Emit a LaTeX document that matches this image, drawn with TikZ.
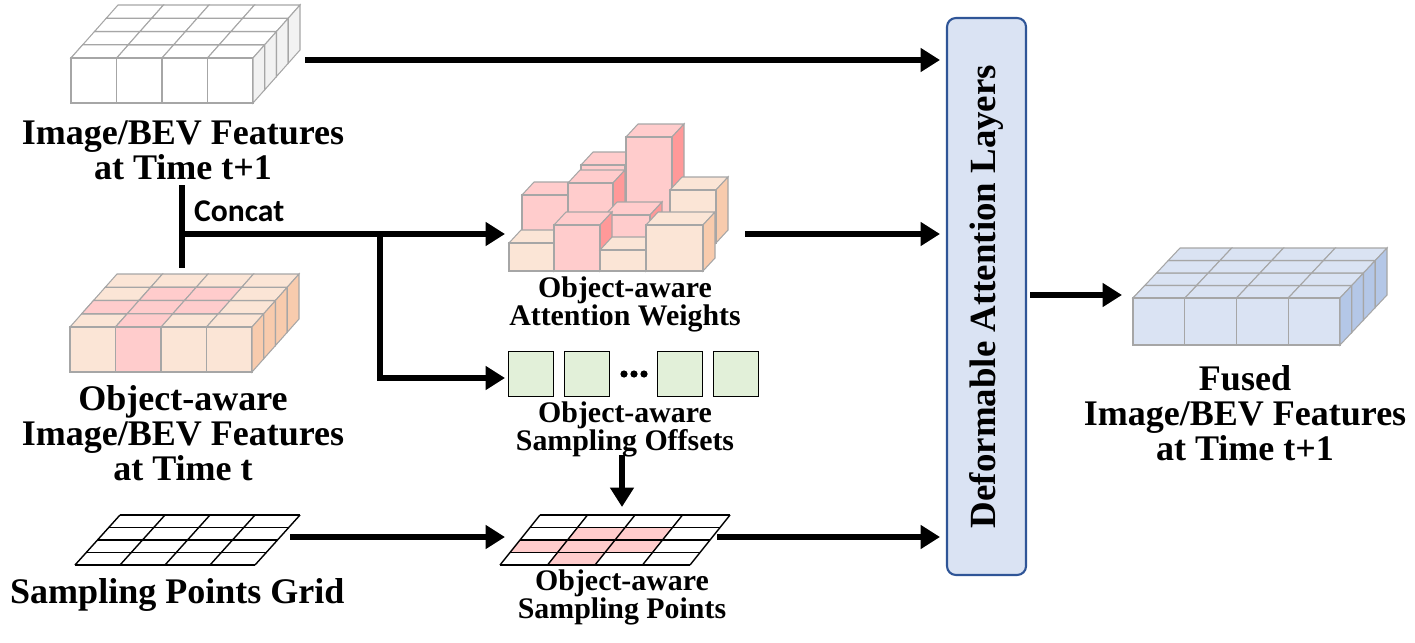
\documentclass[tikz,border=0pt]{standalone}
\usepackage{fontspec}
\setmainfont{Liberation Serif}
\newfontfamily\sansf{Carlito}
\definecolor{pk}{HTML}{FFCCCC}
\definecolor{pks}{HTML}{FF9999}
\definecolor{pc}{HTML}{FBE5D6}
\definecolor{pcs}{HTML}{F8CBAD}
\definecolor{bl}{HTML}{DAE3F3}
\definecolor{bls}{HTML}{B4C7E7}
\definecolor{ws}{HTML}{F2F2F2}
\definecolor{gn}{HTML}{E2F0D9}
\definecolor{edge}{HTML}{A6A6A6}
\definecolor{bord}{HTML}{2F5597}
\tikzset{
 cell/.style={draw=edge,line width=0.6pt},
 arr/.style={line width=3pt,-{Triangle[length=11pt,width=13pt]}},
 ln/.style={line width=3pt},
 lbl/.style={font=\bfseries\fontsize{20.5}{20}\selectfont,align=center},
 slbl/.style={font=\bfseries\fontsize{17}{16}\selectfont,align=center},
 grid/.style={draw=black,line width=0.8pt}
}
\usetikzlibrary{arrows.meta}
\newcommand{\myslab}[8]{%
 \foreach \i in {0,...,3}{\foreach \j in {0,...,3}{
  \filldraw[cell,fill=#3] ({#1+\i*\cw+\j*\ddx},{#2+\j*\ddy}) -- ++(\cw,0) -- ++(\ddx,\ddy) -- ++(-\cw,0) -- cycle;}}
 \foreach \i/\j in {#7}{
  \filldraw[cell,fill=#6] ({#1+\i*\cw+\j*\ddx},{#2+\j*\ddy}) -- ++(\cw,0) -- ++(\ddx,\ddy) -- ++(-\cw,0) -- cycle;}
 \foreach \i in {0,...,3}{
  \filldraw[cell,fill=#4] ({#1+\i*\cw},{#2}) rectangle ++(\cw,\ch);}
 \foreach \i in {#8}{
  \filldraw[cell,fill=#6] ({#1+\i*\cw},{#2}) rectangle ++(\cw,\ch);}
 \foreach \j in {0,...,3}{
  \filldraw[cell,fill=#5] ({#1+4*\cw+\j*\ddx},{#2+\j*\ddy}) -- ++(\ddx,\ddy) -- ++(0,\ch) -- ++(-\ddx,-\ddy) -- cycle;}
}
\newcommand{\mycube}[6]{%
 \filldraw[cell,fill=#5] (#1,#3) -- ++(12,-13) -- ({#2+12},{#3-13}) -- (#2,#3) -- cycle;
 \filldraw[cell,fill=#6] (#2,#3) -- ++(12,-13) -- ({#2+12},{#4-13}) -- (#2,#4) -- cycle;
 \filldraw[cell,fill=#5] (#1,#3) rectangle (#2,#4);
}
\newcommand{\mygrid}[7]{%
 \foreach \i/\j in {#6}{
  \fill[#7] ({#1+\i*#3/4+(4-\j)*#4/4},{#2-(4-\j)*#5/4}) -- ++({#3/4},0) -- ++({#4/4},{-#5/4}) -- ++({-#3/4},0) -- cycle;}
 \foreach \k in {0,...,4}{
  \draw[grid] ({#1+\k*#4/4},{#2-\k*#5/4}) -- ++(#3,0);
  \draw[grid] ({#1+\k*#3/4},{#2}) -- ++(#4,{-#5});}
}
\begin{document}
\begin{tikzpicture}[x=0.02cm,y=-0.02cm]
\useasboundingbox (0,0) rectangle (1415,642);
\def\cw{45.5}\def\ch{45}\def\ddx{11.75}\def\ddy{-13.25}
\myslab{71}{58}{white}{white}{ws}{white}{0/0}{0}
\myslab{70}{327}{pc}{pc}{pcs}{pk}{1/2,2/2,0/1,1/1,2/1,1/0}{1}
\def\cw{51.75}\def\ch{47}\def\ddx{11.75}\def\ddy{-12.5}
\myslab{1133}{298}{bl}{bl}{bls}{bl}{0/0}{0}
% attention weights cubes
\mycube{581}{625}{165}{200}{pk}{pks}
\mycube{626}{672}{137}{243}{pk}{pks}
\mycube{670}{716}{190}{243}{pc}{pcs}
\mycube{522}{568}{195}{243}{pk}{pks}
\mycube{568}{613}{183}{230}{pk}{pks}
\mycube{605}{650}{215}{250}{pk}{pks}
\mycube{509}{554}{243}{271}{pc}{pcs}
\mycube{554}{600}{225}{271}{pk}{pks}
\mycube{600}{646}{250}{271}{pc}{pcs}
\mycube{646}{703}{225}{271}{pc}{pcs}
% offsets
\node[draw,fill=gn,minimum size=0.9cm,inner sep=0,line width=0.8pt] (o1) at (531,374) {};
\node[draw,fill=gn,minimum size=0.9cm,inner sep=0,line width=0.8pt] (o2) at (587,374) {};
\foreach \d in {624,634,644}{\fill (\d,374) circle (3.6);}
\node[draw,fill=gn,minimum size=0.9cm,inner sep=0,line width=0.8pt] (o3) at (680,374) {};
\node[draw,fill=gn,minimum size=0.9cm,inner sep=0,line width=0.8pt] (o4) at (736,374) {};
% grids
\mygrid{75}{565}{180}{45}{50}{0/4}{white}
\mygrid{500}{565}{190}{40}{50}{1/2,2/2,0/3,1/3,2/3,1/4}{pk}
% deformable
\node[draw=bord,fill=bl,rounded corners=5pt,line width=1.2pt,minimum width=1.58cm,minimum height=11.14cm] (da) at (986.5,296.5) {};
\node[rotate=90,font=\bfseries\fontsize{21}{20}\selectfont] at (da) {Deformable Attention Layers};
% labels
\node[lbl] (l1) at (183,150) {Image/BEV Features\\at Time t+1};
\node[lbl] (l2) at (183,433) {Object-aware\\Image/BEV Features\\at Time t};
\node[lbl,anchor=west] (l3) at (4,595) {Sampling Points Grid};
\node[lbl] (l4) at (1245,413) {Fused\\Image/BEV Features\\at Time t+1};
\node[slbl] (l5) at (625,304) {Object-aware\\Attention Weights};
\node[slbl] (l6) at (625,429) {Object-aware\\Sampling Offsets};
\node[slbl] (l7) at (622,597) {Object-aware\\Sampling Points};
\node[anchor=west,font=\sansf\bfseries\fontsize{18}{18}\selectfont] at (188,211) {Concat};
% connectors
\coordinate (c1) at (182,185); \coordinate (c2) at (182,268);
\coordinate (cj) at (182,234); \coordinate (cb) at (380,234);
\draw[ln] (c1) -- (c2);
\draw[arr] (cj) -- (505,234);
\draw[arr] (cb) -- (380,378) -- (505,378);
\draw[arr] (305,60) -- (940,60);
\draw[arr] (745,234) -- (940,234);
\draw[arr] (290,537) -- (505,537);
\draw[arr] (622,455) -- (622,507);
\draw[arr] (717,537) -- (940,537);
\draw[arr] (1030,295) -- (1122,295);
\end{tikzpicture}
\end{document}
